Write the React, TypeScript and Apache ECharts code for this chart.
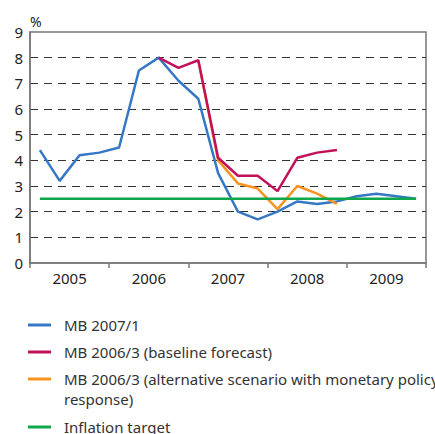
import React, { useEffect, useRef } from "react";
import * as echarts from "echarts";

const quarters = [
  "2005Q1", "2005Q2", "2005Q3", "2005Q4",
  "2006Q1", "2006Q2", "2006Q3", "2006Q4",
  "2007Q1", "2007Q2", "2007Q3", "2007Q4",
  "2008Q1", "2008Q2", "2008Q3", "2008Q4",
  "2009Q1", "2009Q2", "2009Q3", "2009Q4",
];
const years = ["2005", "2006", "2007", "2008", "2009"];

const mb2007 = [4.4, 3.2, 4.2, 4.3, 4.5, 7.5, 8.0, 7.1, 6.4, 3.5, 2.0, 1.7, 2.0, 2.4, 2.3, 2.4, 2.6, 2.7, 2.6, 2.5];
const mb2006Base = [null, null, null, null, null, null, 8.0, 7.6, 7.9, 4.1, 3.4, 3.4, 2.8, 4.1, 4.3, 4.4, null, null, null, null];
const mb2006Alt = [null, null, null, null, null, null, null, null, 7.9, 4.0, 3.1, 2.9, 2.1, 3.0, 2.7, 2.3, null, null, null, null];
const inflationTarget = [2.5, 2.5, 2.5, 2.5, 2.5, 2.5, 2.5, 2.5, 2.5, 2.5, 2.5, 2.5, 2.5, 2.5, 2.5, 2.5, 2.5, 2.5, 2.5, 2.5];

const nameBlue = "MB 2007/1";
const nameRed = "MB 2006/3 (baseline forecast)";
const nameOrange = "MB 2006/3 (alternative scenario with monetary policy";
const nameOrangeCont = "response)";
const nameGreen = "Inflation target";

const FONT = "Noto Sans";

export default function App() {
  const ref = useRef<HTMLDivElement>(null);
  useEffect(() => {
    if (!ref.current) return;
    const chart = echarts.init(ref.current, null, { renderer: "svg" });
    const lineSeries = (name: string, data: any[], color: string, z: number) => ({
      name,
      type: "line",
      data,
      xAxisIndex: 0,
      symbol: "none",
      connectNulls: false,
      z,
      lineStyle: { color, width: 2.5 },
      itemStyle: { color },
    });
    const legendCommon = {
      orient: "vertical",
      left: 28,
      padding: 0,
      icon: "rect",
      itemWidth: 23,
      itemHeight: 3,
      itemGap: 7,
      textStyle: { fontFamily: FONT, fontSize: 15, color: "#333", lineHeight: 20, padding: [0, 0, 0, 8] },
    };
    chart.setOption({
      animation: false,
      textStyle: { fontFamily: FONT },
      grid: {
        left: 30,
        right: 9,
        top: 32,
        bottom: 171,
        show: true,
        borderColor: "#777",
        borderWidth: 1.5,
      },
      xAxis: [
        {
          type: "category",
          data: quarters,
          boundaryGap: true,
          axisLine: { show: false },
          axisTick: { show: false },
          axisLabel: { show: false },
          splitLine: { show: false },
        },
        {
          type: "category",
          data: years,
          position: "bottom",
          boundaryGap: true,
          axisLine: { show: true, lineStyle: { color: "#777", width: 1.5 } },
          axisTick: { show: true, length: 5, lineStyle: { color: "#777", width: 1.5 } },
          axisLabel: { color: "#222", fontSize: 15, margin: 7, fontFamily: FONT },
          splitLine: { show: false },
        },
      ],
      yAxis: {
        type: "value",
        min: 0,
        max: 9,
        interval: 1,
        name: "%",
        nameLocation: "end",
        nameGap: 4,
        nameTextStyle: { color: "#222", fontSize: 14, align: "left", fontFamily: FONT },
        axisLine: { show: true, lineStyle: { color: "#777", width: 1.5 } },
        axisTick: { show: false },
        axisLabel: { color: "#222", fontSize: 15, margin: 7, fontFamily: FONT },
        splitLine: {
          show: true,
          showMinLine: false,
          showMaxLine: false,
          lineStyle: { color: "#333", width: 1, type: [8, 6] },
        },
      },
      legend: [
        { ...legendCommon, top: 315, data: [nameBlue, nameRed, nameOrange] },
        { ...legendCommon, top: 417, data: [nameGreen] },
      ],
      graphic: [
        {
          type: "text",
          left: 64,
          top: 391,
          style: { text: nameOrangeCont, fontFamily: FONT, fontSize: 15, fill: "#333" },
        },
      ],
      series: [
        lineSeries(nameBlue, mb2007, "#3478c6", 2),
        lineSeries(nameRed, mb2006Base, "#c2105a", 4),
        lineSeries(nameOrange, mb2006Alt, "#f7931e", 3),
        lineSeries(nameGreen, inflationTarget, "#10a64a", 5),
      ],
    });
    return () => chart.dispose();
  }, []);
  return <div ref={ref} style={{ width: 435, height: 434, position: "absolute", left: 0, top: 0 }} />;
}
